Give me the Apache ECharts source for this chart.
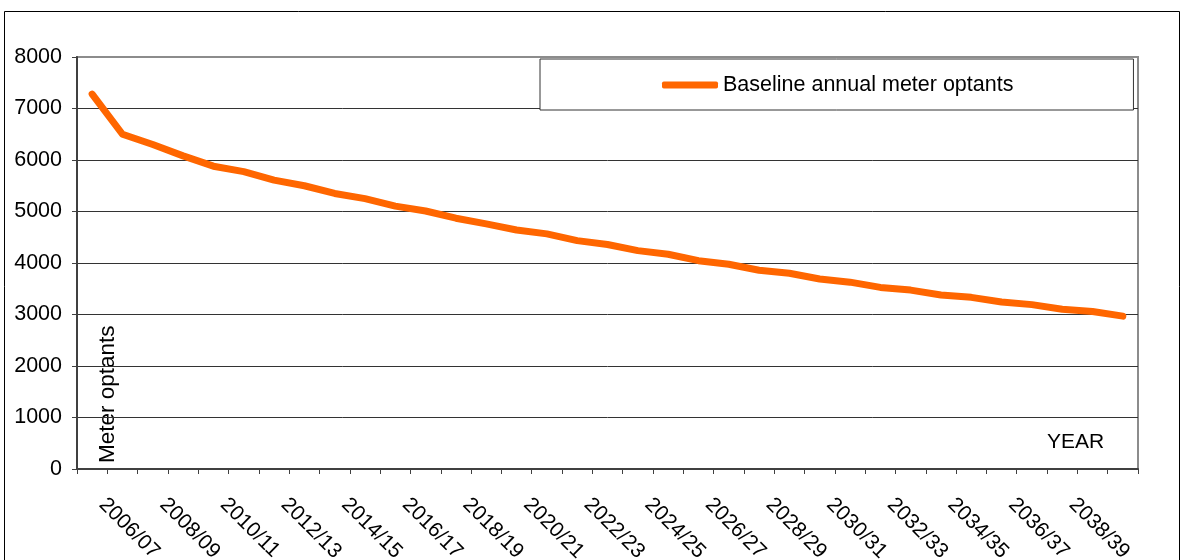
<!DOCTYPE html>
<html>
<head>
<meta charset="utf-8">
<title>Baseline annual meter optants</title>
<script src="https://cdn.jsdelivr.net/npm/echarts@6/dist/echarts.min.js"></script>
<style>
  html, body { margin: 0; padding: 0; background: #ffffff; }
  #chart { width: 1183px; height: 560px; }
</style>
</head>
<body>
<div id="chart"></div>
<script>
// Financial years on the category axis
const years = [
  '2006/07', '2007/08', '2008/09', '2009/10', '2010/11', '2011/12', '2012/13',
  '2013/14', '2014/15', '2015/16', '2016/17', '2017/18', '2018/19', '2019/20',
  '2020/21', '2021/22', '2022/23', '2023/24', '2024/25', '2025/26', '2026/27',
  '2027/28', '2028/29', '2029/30', '2030/31', '2031/32', '2032/33', '2033/34',
  '2034/35', '2035/36', '2036/37', '2037/38', '2038/39', '2039/40', '2040/41'
];

// Baseline annual meter optants per year
const optants = [
  7280, 6500, 6300, 6080, 5880, 5775, 5610,
  5500, 5350, 5250, 5105, 5010, 4870, 4760,
  4640, 4565, 4435, 4360, 4240, 4170, 4045,
  3975, 3860, 3800, 3690, 3628, 3526, 3474,
  3378, 3333, 3244, 3192, 3103, 3058, 2968
];

const seriesName = 'Baseline annual meter optants';
const yAxisTitle = 'Meter optants';
const xAxisTitle = 'YEAR';

const FONT = '"Liberation Sans", Arial, Helvetica, sans-serif';

const chart = echarts.init(document.getElementById('chart'), null, { renderer: 'canvas' });

chart.setOption({
  animation: false,
  backgroundColor: '#ffffff',
  textStyle: { fontFamily: FONT },
  grid: {
    left: 77,
    right: 45,
    top: 57,
    bottom: 91,
    outerBoundsMode: 'none',
    containLabel: false,
    show: true,
    borderColor: '#8c8c8c',
    borderWidth: 2,
    backgroundColor: 'transparent'
  },
  legend: {
    left: 540,
    top: 59,
    padding: [15, 120, 14, 122],
    backgroundColor: '#ffffff',
    borderColor: '#333333',
    borderWidth: 1,
    borderRadius: 0,
    icon: 'roundRect',
    itemWidth: 56,
    itemHeight: 7,
    textStyle: { fontFamily: FONT, fontSize: 21.5, color: '#000000' },
    data: [seriesName]
  },
  xAxis: {
    type: 'category',
    data: years,
    boundaryGap: true,
    axisLine: { lineStyle: { color: '#404040', width: 2 } },
    axisTick: { show: true, interval: 0, length: 5, lineStyle: { color: '#404040', width: 1 } },
    axisLabel: {
      interval: (index) => index % 2 === 0 && index < years.length - 1,
      rotate: -45,
      verticalAlign: 'bottom',
      margin: 37,
      padding: [0, 0, 0, 4],
      fontFamily: FONT,
      fontSize: 21,
      color: '#000000'
    },
    splitLine: { show: false }
  },
  yAxis: {
    type: 'value',
    min: 0,
    max: 8000,
    interval: 1000,
    axisLine: { show: true, lineStyle: { color: '#404040', width: 2 } },
    axisTick: { show: true, length: 5, lineStyle: { color: '#404040', width: 1 } },
    axisLabel: {
      margin: 15,
      fontFamily: FONT,
      fontSize: 21.5,
      color: '#000000',
      formatter: (v) => String(v)
    },
    splitLine: { show: true, showMaxLine: false, lineStyle: { color: '#333333', width: 1 } }
  },
  graphic: [
    {
      type: 'rect',
      silent: true,
      shape: { x: 4.5, y: 11.5, width: 1175, height: 600 },
      style: { fill: 'none', stroke: '#000000', lineWidth: 1 },
      z: -1
    },
    {
      type: 'text',
      silent: true,
      x: 108,
      y: 463,
      rotation: Math.PI / 2,
      style: {
        text: yAxisTitle,
        fontFamily: FONT,
        fontSize: 22.5,
        fill: '#000000',
        align: 'left',
        verticalAlign: 'middle'
      }
    },
    {
      type: 'text',
      silent: true,
      x: 1047,
      y: 442,
      style: {
        text: xAxisTitle,
        fontFamily: FONT,
        fontSize: 21,
        fill: '#000000',
        align: 'left',
        verticalAlign: 'middle'
      }
    }
  ],
  series: [
    {
      name: seriesName,
      type: 'line',
      data: optants,
      showSymbol: false,
      symbol: 'none',
      lineStyle: { color: '#ff6600', width: 7, cap: 'round', join: 'round' },
      itemStyle: { color: '#ff6600' },
      z: 3
    }
  ]
});
</script>
</body>
</html>
